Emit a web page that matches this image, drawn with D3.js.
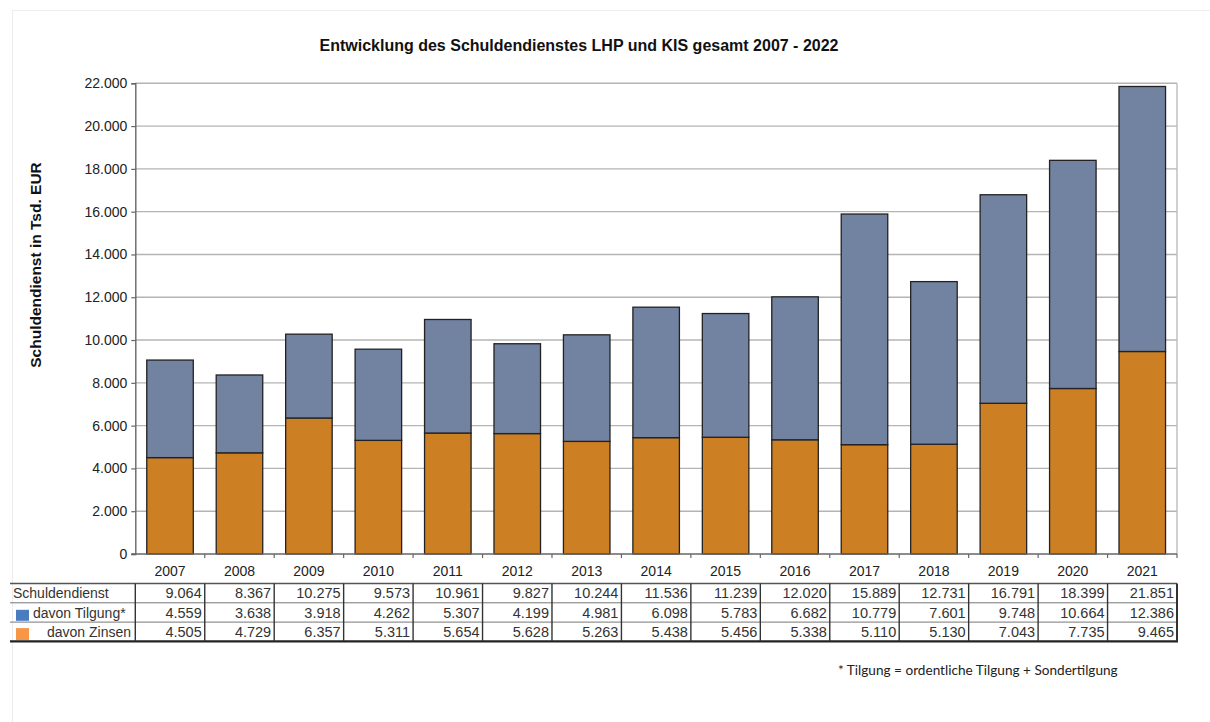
<!DOCTYPE html>
<html><head><meta charset="utf-8">
<script src="https://cdn.jsdelivr.net/npm/d3@7"></script>
<style>
html,body{margin:0;padding:0;background:#fff;}
svg{display:block;}
</style></head>
<body>
<svg id="c" width="1210" height="722"></svg>
<script>
const years = ["2007","2008","2009","2010","2011","2012","2013","2014","2015","2016","2017","2018","2019","2020","2021"];
const schuldendienst = [9064,8367,10275,9573,10961,9827,10244,11536,11239,12020,15889,12731,16791,18399,21851];
const tilgung = [4559,3638,3918,4262,5307,4199,4981,6098,5783,6682,10779,7601,9748,10664,12386];
const zinsen = [4505,4729,6357,5311,5654,5628,5263,5438,5456,5338,5110,5130,7043,7735,9465];
const yTicks = [0,2000,4000,6000,8000,10000,12000,14000,16000,18000,20000,22000];
const seriesNames = ["davon Zinsen","davon Tilgung*"];
const rowLabels = ["Schuldendienst","davon Tilgung*","davon Zinsen"];

const svg = d3.select("#c");
const F = "'Liberation Sans', Arial, sans-serif";
const fmt = v => d3.format(",")(v).replace(/,/g,".");

const L = 135.3, R = 1177, T = 83.3, B = 554;
const x = d3.scaleBand().domain(years).range([L,R]).paddingInner(0.33).paddingOuter(0.165);
const xs = d3.scaleBand().domain(years).range([L,R]);
const y = d3.scaleLinear().domain([0,22000]).range([B,T]);

// faint frame
svg.append("line").attr("x1",12).attr("x2",1210).attr("y1",10.5).attr("y2",10.5).attr("stroke","#ececec");
svg.append("line").attr("x1",12.5).attr("x2",12.5).attr("y1",10).attr("y2",722).attr("stroke","#ececec");

// title
svg.append("text").attr("x",579).attr("y",51).attr("text-anchor","middle")
  .attr("font-family",F).attr("font-weight","bold").attr("font-size",16).attr("fill","#111")
  .text("Entwicklung des Schuldendienstes LHP und KIS gesamt 2007 - 2022");

// gridlines
svg.append("g").selectAll("line").data(yTicks.filter(d=>d>0)).join("line")
  .attr("x1",L).attr("x2",R).attr("y1",d=>y(d)).attr("y2",d=>y(d))
  .attr("stroke","#b4b4b4").attr("stroke-width",1.4);
// right border
svg.append("line").attr("x1",R).attr("x2",R).attr("y1",T).attr("y2",B).attr("stroke","#bdbdbd").attr("stroke-width",1.4);

// stacked bars
const data = years.map((yr,i)=>({year:yr,"davon Zinsen":zinsen[i],"davon Tilgung*":tilgung[i]}));
const stack = d3.stack().keys(seriesNames)(data);
const colors = {"davon Zinsen":"#cd7f23","davon Tilgung*":"#7282a1"};
svg.append("g").selectAll("g").data(stack).join("g")
  .attr("fill",d=>colors[d.key])
  .selectAll("rect").data(d=>d).join("rect")
  .attr("x",d=>x(d.data.year)).attr("width",x.bandwidth())
  .attr("y",d=>y(d[1])).attr("height",d=>y(d[0])-y(d[1]))
  .attr("stroke","#222").attr("stroke-width",1.3);

// y axis
const yAxis = svg.append("g").attr("transform",`translate(${L},0)`)
  .call(d3.axisLeft(y).tickValues(yTicks).tickFormat(fmt).tickSize(4).tickPadding(4));
yAxis.select(".domain").attr("stroke","#666").attr("stroke-width",1.4);
yAxis.selectAll(".tick line").attr("stroke","#666").attr("stroke-width",1.2);
yAxis.selectAll("text").attr("font-family",F).attr("font-size",14).attr("fill","#222");

// x axis
const xg = svg.append("g").attr("transform",`translate(0,${B})`);
xg.append("line").attr("x1",L-4).attr("x2",R).attr("stroke","#666").attr("stroke-width",1.4);
xg.selectAll("line.t").data(years).join("line").attr("class","t")
  .attr("x1",d=>xs(d)+xs.bandwidth()).attr("x2",d=>xs(d)+xs.bandwidth())
  .attr("y1",0).attr("y2",4).attr("stroke","#666").attr("stroke-width",1.2);
xg.selectAll("text").data(years).join("text")
  .attr("x",d=>xs(d)+xs.bandwidth()/2).attr("y",22).attr("text-anchor","middle")
  .attr("font-family",F).attr("font-size",14).attr("fill","#222").text(d=>d);

// y axis title
svg.append("text").attr("transform","translate(41,265) rotate(-90)").attr("text-anchor","middle")
  .attr("font-family",F).attr("font-weight","bold").attr("font-size",15.5).attr("fill","#111")
  .text("Schuldendienst in Tsd. EUR");

// data table
const tT = 583.5, rh = 19.3, tL = 10;
const rows = [schuldendienst, tilgung, zinsen];
const tb = svg.append("g");
rows.forEach((vals,r)=>{
  tb.selectAll(null).data(vals).join("text")
    .attr("x",(d,i)=>xs(years[i])+xs.bandwidth()-3).attr("y",tT+rh*r+rh/2+5.2)
    .attr("text-anchor","end").attr("font-family",F).attr("font-size",14.5).attr("fill","#333")
    .text(d=>fmt(d));
});
tb.append("text").attr("x",13).attr("y",tT+rh/2+5.2).attr("font-family",F).attr("font-size",14).attr("fill","#333").text(rowLabels[0]);
tb.append("text").attr("x",33).attr("y",tT+rh*1.5+5.2).attr("font-family",F).attr("font-size",14).attr("fill","#333").text(rowLabels[1]);
tb.append("text").attr("x",131).attr("y",tT+rh*2.5+5.2).attr("text-anchor","end").attr("font-family",F).attr("font-size",14).attr("fill","#333").text(rowLabels[2]);
tb.append("rect").attr("x",16).attr("y",tT+rh+7).attr("width",13).attr("height",11).attr("fill","#4a7dc0");
tb.append("rect").attr("x",16).attr("y",tT+rh*2+6).attr("width",13).attr("height",12).attr("fill","#f79646");
tb.append("line").attr("x1",tL).attr("x2",R).attr("y1",tT).attr("y2",tT).attr("stroke","#555").attr("stroke-width",1.6);
[1,2].forEach(r=>tb.append("line").attr("x1",tL).attr("x2",R).attr("y1",tT+rh*r).attr("y2",tT+rh*r).attr("stroke","#777").attr("stroke-width",1));
tb.append("line").attr("x1",tL).attr("x2",R+1).attr("y1",tT+rh*3).attr("y2",tT+rh*3).attr("stroke","#222").attr("stroke-width",2.2);
const vx = [L].concat(years.map(d=>xs(d)+xs.bandwidth()));
tb.selectAll("line.v").data(vx).join("line").attr("class","v")
  .attr("x1",d=>d).attr("x2",d=>d).attr("y1",tT).attr("y2",tT+rh*3)
  .attr("stroke","#333").attr("stroke-width",(d,i)=>i===vx.length-1?2:1.4);

// footnote
svg.append("text").attr("x",838).attr("y",675).attr("font-family","Lato, 'Open Sans', sans-serif")
  .attr("font-size",13.6).attr("fill","#222").text("* Tilgung = ordentliche Tilgung + Sondertilgung");
</script>
</body></html>
